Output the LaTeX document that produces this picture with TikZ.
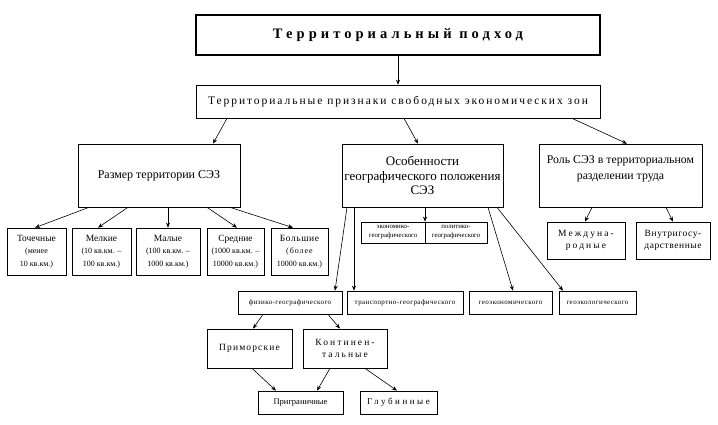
\documentclass[tikz,border=0pt]{standalone}
\usepackage{fontspec}
\setmainfont{Liberation Serif}
\newfontfamily\spaced[LetterSpace=6]{Liberation Serif}
\newfontfamily\midsp[LetterSpace=12]{Liberation Serif}
\newfontfamily\wide[LetterSpace=17]{Liberation Serif}
\newfontfamily\wider[LetterSpace=22]{Liberation Serif}
\newfontfamily\widest[LetterSpace=28]{Liberation Serif}
\usetikzlibrary{arrows.meta}
\newcommand{\fsz}[2]{\fontsize{#1}{#2}\selectfont}
\tikzset{
  box/.style={draw, line width=0.7pt, inner sep=0pt, align=center},
  arr/.style={-{Stealth[length=5pt,width=4pt]}, line width=0.6pt},
}
\begin{document}
\begin{tikzpicture}[x=1pt, y=-1pt]
\useasboundingbox (0,0) rectangle (718,425);
% top levels
\node[box, line width=1.6pt, minimum width=404pt, minimum height=40pt, font=\widest\fsz{14.5}{16}\bfseries] (podhod) at (398,35) {Территориальный подход};
\node[box, minimum width=404pt, minimum height=33pt, font=\wide\fsz{11.5}{13}] (priznaki) at (398,101.5) {Территориальные признаки свободных экономических зон};
% three groups
\node[box, minimum width=162pt, minimum height=63pt, font=\fsz{12}{14}] (razmer) at (159,175.5) {Размер территории СЭЗ};
\node[box, minimum width=161pt, minimum height=63pt, font=\fsz{13}{14.5}] (osob) at (422.5,175.5) {Особенности\\географического положения\\СЭЗ};
\node[box, minimum width=163pt, minimum height=63pt, font=\fsz{11.8}{16}] (rol) at (620.5,175.5) {Роль СЭЗ в территориальном\\разделении труда\\\mbox{}};
% sizes
\node[box, minimum width=59pt, minimum height=47pt, font=\fsz{8}{12.5}] (toch) at (36.5,251.5) {{\fsz{9.5}{12.5}Точечные}\\(менее\\10 кв.км.)};
\node[box, minimum width=59pt, minimum height=47pt, font=\fsz{8}{12.5}] (melk) at (101.5,251.5) {{\fsz{9.5}{12.5}Мелкие}\\(10 кв.км. –\\100 кв.км.)};
\node[box, minimum width=64pt, minimum height=47pt, font=\fsz{8}{12.5}] (mal) at (168,251.5) {{\fsz{9.5}{12.5}Малые}\\(100 кв.км. –\\1000 кв.км.)};
\node[box, minimum width=57pt, minimum height=47pt, font=\fsz{8}{12.5}] (sred) at (235.5,251.5) {{\fsz{9.5}{12.5}Средние}\\(1000 кв.км. –\\10000 кв.км.)};
\node[box, minimum width=57pt, minimum height=47pt, font=\fsz{8}{12.5}] (bolsh) at (299.5,251.5) {{\spaced\fsz{9.5}{12.5}Большие}\\{\midsp(более}\\10000 кв.км.)};
% position
\node[box, minimum width=64pt, minimum height=21pt, font=\fsz{6.8}{9}] (ekon) at (393,232.5) {экономико-\\географического};
\node[box, minimum width=62pt, minimum height=21pt, font=\fsz{6.8}{9}] (polit) at (456,232.5) {политико-\\географического};
\node[box, minimum width=104pt, minimum height=23pt, font=\spaced\fsz{7}{8}] (fiz) at (290,302.5) {физико-географического};
\node[box, minimum width=116pt, minimum height=23pt, font=\spaced\fsz{7}{8}] (trans) at (405,302.5) {транспортно-географического};
\node[box, minimum width=83pt, minimum height=23pt, font=\spaced\fsz{7}{8}] (geoek) at (510.5,302.5) {геоэкономического};
\node[box, minimum width=77pt, minimum height=23pt, font=\spaced\fsz{7}{8}] (geoekol) at (597.5,302.5) {геоэкологического};
\node[box, minimum width=85pt, minimum height=39pt, font=\midsp\fsz{9.5}{12}] (prim) at (249.5,348.5) {Приморские};
\node[box, minimum width=84pt, minimum height=39pt, font=\wider\fsz{9.5}{12.5}] (kont) at (345,348.5) {Континен-\\тальные};
\node[box, minimum width=85pt, minimum height=23pt, font=\fsz{8.5}{10}] (pogr) at (300.5,402.5) {Приграничные};
\node[box, minimum width=77pt, minimum height=23pt, font=\widest\fsz{9}{10}] (glub) at (398.5,402.5) {Глубинные};
% role
\node[box, minimum width=78pt, minimum height=37pt, font=\wider\fsz{9.5}{12.7}] (mezh) at (586,240.5) {Междуна-\\родные};
\node[box, minimum width=74pt, minimum height=37pt, font=\spaced\fsz{9.5}{12.7}] (vnutr) at (673,240.5) {Внутригосу-\\дарственные};
% arrows: from / shift / to / shift
\foreach \a/\da/\b/\db in {podhod/0/priznaki/0, priznaki/-171/razmer/54, priznaki/6/osob/-4.5,
    priznaki/174/rol/6.5, razmer/-70/toch/-1.5, razmer/-31/melk/-3.5, razmer/9/mal/0,
    razmer/48/sred/1.5, razmer/71/bolsh/-6.5, osob/2.5/polit/-31, osob/-75.5/fiz/45,
    osob/-68.5/trans/-51, osob/65.5/geoek/2.5, osob/74.5/geoekol/-34.5, rol/-28.5/mezh/-1,
    rol/45.5/vnutr/0, fiz/-27/prim/3.5, fiz/38/kont/-5, prim/2.5/pogr/-24.5,
    kont/-15/pogr/16.5, kont/20/glub/-1.5}
  \draw[arr] ([xshift=\da pt]\a.south) -- ([xshift=\db pt]\b.north);
\end{tikzpicture}
\end{document}
